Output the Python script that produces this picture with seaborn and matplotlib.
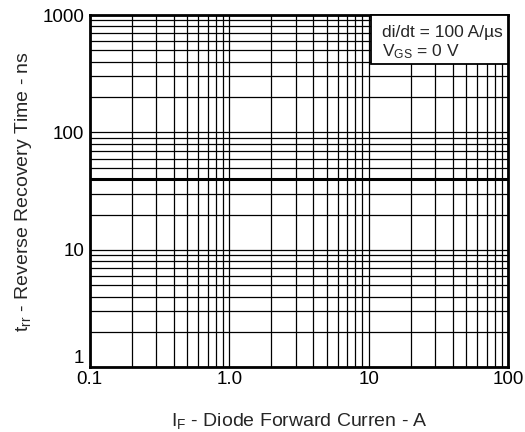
import matplotlib
matplotlib.use("Agg")
import matplotlib.pyplot as plt
import matplotlib.ticker as mticker
from matplotlib.patches import Rectangle
import seaborn as sns
import pandas as pd

# Reverse recovery time vs forward current
current = [0.1, 100]
trr = [40, 40]
x_ticks = [0.1, 1, 10, 100]
x_labels = ["0.1", "1.0", "10", "100"]
y_ticks = [1, 10, 100, 1000]
y_labels = ["1", "10", "100", "1000"]
note_lines = ["di/dt = 100 A/\u00b5s", r"$\mathregular{V_{GS}}$ = 0 V"]


def main():
    sns.set_style("white")
    plt.rcParams['font.family'] = ['Liberation Sans', 'DejaVu Sans']
    plt.rcParams['mathtext.fontset'] = 'custom'
    plt.rcParams['mathtext.rm'] = 'Liberation Sans'

    df = pd.DataFrame({"IF": current, "trr": trr})

    fig = plt.figure(figsize=(5.25, 4.32), dpi=100)
    ax = fig.add_axes([0.171, 0.150, 0.797, 0.815])

    sns.lineplot(data=df, x="IF", y="trr", color="black", linewidth=2.2, ax=ax, zorder=3)

    ax.set_xscale("log")
    ax.set_yscale("log")
    ax.set_xlim(0.1, 100)
    ax.set_ylim(1, 1000)

    ax.xaxis.set_major_locator(mticker.FixedLocator(x_ticks))
    ax.yaxis.set_major_locator(mticker.FixedLocator(y_ticks))
    ax.xaxis.set_minor_locator(mticker.LogLocator(base=10, subs=range(2, 10)))
    ax.yaxis.set_minor_locator(mticker.LogLocator(base=10, subs=range(2, 10)))
    ax.set_xticklabels(x_labels)
    ax.set_yticklabels(y_labels)
    ax.xaxis.set_minor_formatter(mticker.NullFormatter())
    ax.yaxis.set_minor_formatter(mticker.NullFormatter())
    ax.tick_params(which="both", length=0, labelsize=13.5, colors="black")
    ax.tick_params(axis="x", pad=3)
    ax.tick_params(axis="y", pad=4)
    # lift the bottom "1" so it clears the "0.1"
    ax.get_yticklabels()[0].set_va("bottom")

    ax.grid(which="both", color="black", linewidth=0.9)
    for s in ax.spines.values():
        s.set_color("black")
        s.set_linewidth(2)

    ax.set_xlabel(r"$\mathregular{I_F}$ - Diode Forward Curren - A", fontsize=14, labelpad=16)
    ax.set_ylabel(r"$\mathregular{t_{rr}}$ - Reverse Recovery Time - ns", fontsize=14, labelpad=6)

    # condition box in the top-right corner
    ax.add_patch(Rectangle((0.672, 0.861), 0.328, 0.139, transform=ax.transAxes,
                           facecolor="white", edgecolor="black", linewidth=1.3, zorder=5,
                           clip_on=False))
    ax.text(0.699, 0.952, note_lines[0], transform=ax.transAxes, ha="left", va="center",
            fontsize=12.5, zorder=6)
    ax.text(0.699, 0.895, note_lines[1], transform=ax.transAxes, ha="left", va="center",
            fontsize=12.5, zorder=6)

    fig.savefig("out.png", dpi=100)


if __name__ == "__main__":
    main()
